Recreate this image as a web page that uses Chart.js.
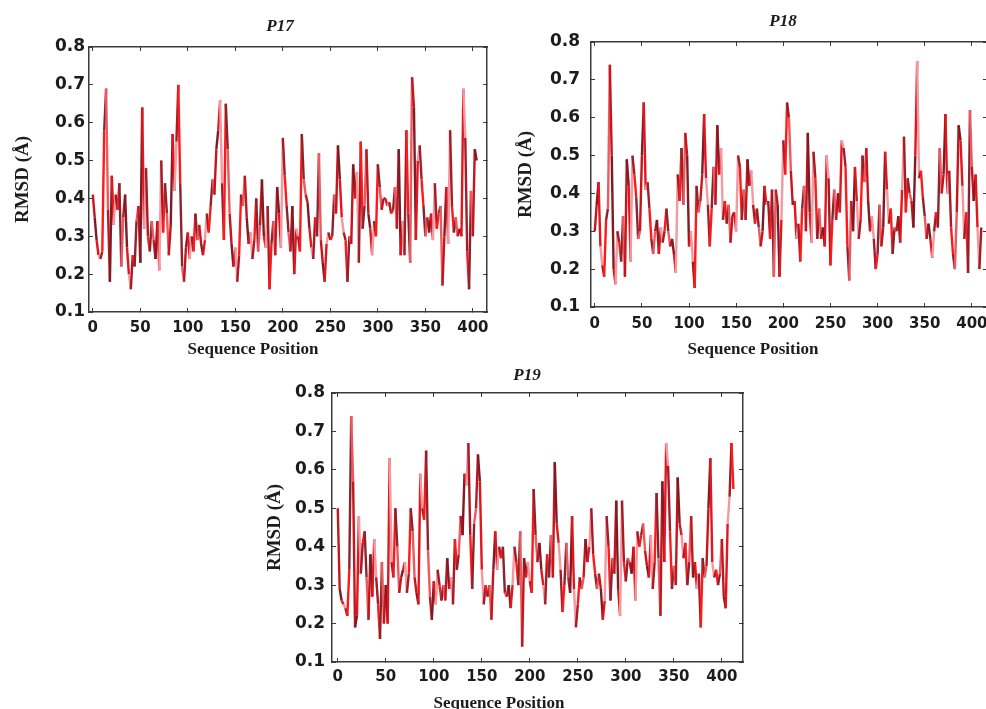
<!DOCTYPE html>
<html>
<head>
<meta charset="utf-8">
<script src="https://cdn.jsdelivr.net/npm/chart.js@4.4.1/dist/chart.umd.min.js"></script>
<style>
  html, body { margin: 0; padding: 0; background: #fff; overflow: hidden; width: 986px; height: 709px; }
  canvas { position: absolute; }
  #c17 { left: 0; top: 0; }
  #c18 { left: 500px; top: 0; }
  #c19 { left: 240px; top: 360px; }
</style>
</head>
<body>
<canvas id="c17" width="500" height="365"></canvas>
<canvas id="c18" width="500" height="360"></canvas>
<canvas id="c19" width="520" height="349"></canvas>
<script>
// ================= DATA =================
// RMSD per residue, every 2 sequence positions
const STEP = 2;

const p17Rmsd = [
  0.41, 0.35, 0.29, 0.25, 0.24, 0.26, 0.58, 0.69, 0.37, 0.18,
  0.46, 0.33, 0.41, 0.37, 0.44, 0.22, 0.35, 0.41, 0.27, 0.20,
  0.16, 0.25, 0.22, 0.34, 0.38, 0.23, 0.64, 0.32, 0.48, 0.30,
  0.26, 0.34, 0.29, 0.24, 0.34, 0.21, 0.50, 0.31, 0.44, 0.36,
  0.25, 0.33, 0.57, 0.42, 0.55, 0.70, 0.44, 0.22, 0.18, 0.27,
  0.31, 0.24, 0.30, 0.26, 0.36, 0.29, 0.33, 0.28, 0.25, 0.29,
  0.36, 0.31, 0.38, 0.45, 0.41, 0.53, 0.58, 0.66, 0.44, 0.29,
  0.65, 0.53, 0.36, 0.28, 0.22, 0.27, 0.18, 0.25, 0.41, 0.38,
  0.46, 0.35, 0.28, 0.31, 0.24, 0.29, 0.40, 0.26, 0.33, 0.45,
  0.30, 0.27, 0.38, 0.16, 0.28, 0.34, 0.25, 0.43, 0.36, 0.27,
  0.56, 0.46, 0.38, 0.31, 0.26, 0.38, 0.20, 0.32, 0.30, 0.26,
  0.57, 0.45, 0.41, 0.39, 0.32, 0.27, 0.24, 0.35, 0.30, 0.52,
  0.29, 0.23, 0.18, 0.28, 0.31, 0.29, 0.30, 0.41, 0.36, 0.54,
  0.45, 0.35, 0.31, 0.29, 0.18, 0.30, 0.28, 0.49, 0.40, 0.47,
  0.23, 0.55, 0.32, 0.38, 0.53, 0.36, 0.32, 0.25, 0.34, 0.30,
  0.49, 0.43, 0.37, 0.40, 0.40, 0.38, 0.39, 0.36, 0.37, 0.43,
  0.32, 0.53, 0.25, 0.34, 0.25, 0.58, 0.36, 0.23, 0.72, 0.64,
  0.29, 0.50, 0.54, 0.45, 0.38, 0.30, 0.35, 0.31, 0.36, 0.29,
  0.44, 0.32, 0.36, 0.38, 0.17, 0.30, 0.43, 0.28, 0.58, 0.38,
  0.31, 0.35, 0.30, 0.32, 0.30, 0.69, 0.56, 0.26, 0.16, 0.42,
  0.30, 0.53, 0.50
];

const p18Rmsd = [
  0.30, 0.37, 0.43, 0.26, 0.21, 0.18, 0.33, 0.36, 0.74, 0.50,
  0.20, 0.16, 0.30, 0.27, 0.22, 0.34, 0.18, 0.49, 0.42, 0.22,
  0.50, 0.45, 0.39, 0.28, 0.30, 0.50, 0.64, 0.41, 0.43, 0.36,
  0.28, 0.24, 0.30, 0.33, 0.24, 0.31, 0.27, 0.30, 0.36, 0.30,
  0.26, 0.28, 0.24, 0.19, 0.45, 0.38, 0.52, 0.37, 0.56, 0.50,
  0.26, 0.30, 0.22, 0.15, 0.42, 0.35, 0.38, 0.45, 0.61, 0.44,
  0.37, 0.26, 0.36, 0.47, 0.37, 0.58, 0.45, 0.52, 0.33, 0.38,
  0.32, 0.37, 0.27, 0.34, 0.35, 0.30, 0.50, 0.47, 0.33, 0.41,
  0.33, 0.49, 0.42, 0.46, 0.37, 0.32, 0.36, 0.31, 0.26, 0.30,
  0.42, 0.37, 0.38, 0.28, 0.41, 0.18, 0.41, 0.37, 0.18, 0.33,
  0.54, 0.45, 0.64, 0.60, 0.46, 0.37, 0.38, 0.28, 0.32, 0.22,
  0.36, 0.42, 0.30, 0.56, 0.35, 0.27, 0.51, 0.44, 0.28, 0.36,
  0.28, 0.31, 0.26, 0.50, 0.44, 0.21, 0.33, 0.41, 0.33, 0.40,
  0.35, 0.54, 0.52, 0.47, 0.26, 0.17, 0.38, 0.30, 0.47, 0.38,
  0.28, 0.33, 0.50, 0.43, 0.52, 0.38, 0.30, 0.34, 0.28, 0.20,
  0.24, 0.37, 0.26, 0.31, 0.51, 0.41, 0.32, 0.36, 0.24, 0.31,
  0.30, 0.34, 0.27, 0.41, 0.55, 0.35, 0.44, 0.40, 0.38, 0.31,
  0.50, 0.75, 0.44, 0.46, 0.39, 0.34, 0.28, 0.32, 0.28, 0.23,
  0.30, 0.35, 0.31, 0.52, 0.40, 0.45, 0.61, 0.40, 0.46, 0.31,
  0.24, 0.20, 0.35, 0.58, 0.54, 0.42, 0.28, 0.35, 0.19, 0.62,
  0.47, 0.38, 0.45, 0.31, 0.20, 0.31
];

const p19Rmsd = [
  0.50, 0.29, 0.26, 0.25, 0.24, 0.22, 0.34, 0.74, 0.57, 0.19,
  0.22, 0.48, 0.33, 0.41, 0.44, 0.32, 0.21, 0.38, 0.27, 0.42,
  0.32, 0.25, 0.16, 0.36, 0.20, 0.30, 0.20, 0.63, 0.36, 0.32,
  0.50, 0.40, 0.28, 0.32, 0.34, 0.36, 0.28, 0.33, 0.50, 0.44,
  0.32, 0.28, 0.25, 0.59, 0.50, 0.47, 0.65, 0.39, 0.27, 0.21,
  0.31, 0.25, 0.34, 0.30, 0.26, 0.30, 0.26, 0.37, 0.29, 0.32,
  0.25, 0.42, 0.34, 0.38, 0.48, 0.43, 0.59, 0.56, 0.67, 0.43,
  0.29, 0.46, 0.50, 0.64, 0.57, 0.34, 0.25, 0.30, 0.27, 0.30,
  0.21, 0.34, 0.44, 0.34, 0.40, 0.37, 0.40, 0.28, 0.27, 0.30,
  0.24, 0.30, 0.40, 0.36, 0.30, 0.44, 0.14, 0.37, 0.32, 0.36,
  0.31, 0.28, 0.55, 0.43, 0.36, 0.41, 0.34, 0.30, 0.25, 0.38,
  0.32, 0.43, 0.32, 0.62, 0.46, 0.41, 0.34, 0.23, 0.30, 0.41,
  0.32, 0.28, 0.48, 0.29, 0.19, 0.25, 0.32, 0.29, 0.32, 0.42,
  0.36, 0.40, 0.50, 0.38, 0.33, 0.29, 0.33, 0.29, 0.21, 0.26,
  0.48, 0.40, 0.26, 0.37, 0.33, 0.52, 0.29, 0.22, 0.52, 0.36,
  0.31, 0.37, 0.36, 0.33, 0.40, 0.26, 0.44, 0.40, 0.43, 0.46,
  0.39, 0.35, 0.32, 0.43, 0.29, 0.36, 0.54, 0.37, 0.22, 0.57,
  0.36, 0.67, 0.61, 0.44, 0.29, 0.35, 0.30, 0.58, 0.46, 0.43,
  0.37, 0.41, 0.30, 0.36, 0.48, 0.32, 0.36, 0.29, 0.33, 0.19,
  0.37, 0.32, 0.35, 0.50, 0.63, 0.36, 0.32, 0.34, 0.30, 0.33,
  0.42, 0.27, 0.24, 0.46, 0.53, 0.67, 0.55
];

const xTicks = [0, 50, 100, 150, 200, 250, 300, 350, 400];
const yTicks = [0.1, 0.2, 0.3, 0.4, 0.5, 0.6, 0.7, 0.8];

// ================= STYLE =================
const LINE_COLORS = ['#c4161f', '#7d1c26', '#e3151d', '#f29aa0', '#a51b26', '#ff1a1a', '#8a2530', '#ec5a60'];
const INK = '#1c1c1c';
const FRAME = '#3a3a3a';

// panel title + x axis title, drawn where the figure has them
const panelText = {
  id: 'panelText',
  afterDraw(chart, args, o) {
    const ctx = chart.ctx;
    ctx.save();
    ctx.fillStyle = INK;
    ctx.textAlign = 'center';
    ctx.textBaseline = 'middle';
    ctx.font = 'italic bold 17px "Liberation Serif"';
    ctx.fillText(o.title, o.titleX, o.titleY);
    ctx.font = 'bold 17px "Liberation Serif"';
    ctx.fillText(o.xTitle, o.xTitleX, o.xTitleY);
    ctx.restore();
  }
};

function frameAxis(axis, position, min, max, size) {
  return {
    type: 'linear', axis, position, min, max,
    afterBuildTicks: s => { s.ticks = (axis === 'x' ? xTicks : yTicks).map(v => ({ value: v })); },
    afterFit: s => { if (axis === 'x') s.height = size; else s.width = size; },
    ticks: { display: false },
    grid: { display: true, drawOnChartArea: false, drawTicks: true, tickLength: -4, color: FRAME },
    border: { display: true, color: FRAME, width: 1.5 }
  };
}

function panel(id, values, L) {
  const pts = values.map((v, i) => ({ x: i * STEP, y: v }));
  return new Chart(document.getElementById(id), {
    type: 'line',
    data: {
      datasets: [{
        data: pts,
        borderColor: LINE_COLORS[0],
        borderWidth: 2.4,
        pointRadius: 0,
        tension: 0,
        segment: { borderColor: c => LINE_COLORS[c.p0DataIndex % LINE_COLORS.length] }
      }]
    },
    options: {
      responsive: false,
      animation: false,
      events: [],
      layout: { padding: 0 },
      plugins: {
        legend: { display: false },
        tooltip: { enabled: false },
        panelText: L.text
      },
      scales: {
        x: {
          type: 'linear', position: 'bottom', min: L.xMin, max: L.xMax,
          afterBuildTicks: s => { s.ticks = xTicks.map(v => ({ value: v })); },
          afterFit: s => { s.height = L.bottomH; },
          ticks: { autoSkip: false, maxRotation: 0, padding: L.xPad, color: INK,
                   font: { family: 'DejaVu Sans', weight: 'bold', size: 15 } },
          grid: { display: true, drawOnChartArea: false, drawTicks: true, tickLength: -4, color: FRAME },
          border: { display: true, color: FRAME, width: 1.5 }
        },
        x2: frameAxis('x', 'top', L.xMin, L.xMax, L.topH),
        y: {
          type: 'linear', position: 'left', min: 0.1, max: 0.8,
          afterBuildTicks: s => { s.ticks = yTicks.map(v => ({ value: v })); },
          afterFit: s => { s.width = L.leftW; },
          ticks: { padding: L.yPad, color: INK, callback: v => v.toFixed(1),
                   font: { family: 'DejaVu Sans', weight: 'bold', size: 17 } },
          grid: { display: true, drawOnChartArea: false, drawTicks: true, tickLength: -4, color: FRAME },
          border: { display: true, color: FRAME, width: 1.5 },
          title: { display: true, text: 'RMSD (Å)', color: INK, padding: { top: L.yTitlePad, bottom: 0 },
                   font: { family: 'Liberation Serif', weight: 'bold', size: 19 } }
        },
        y2: frameAxis('y', 'right', 0.1, 0.8, L.rightW)
      }
    },
    plugins: [panelText]
  });
}

// ================= PANELS =================
panel('c17', p17Rmsd, {
  xMin: -4, xMax: 415, leftW: 89, rightW: 11, topH: 47, bottomH: 53,
  xPad: 11, yPad: 8, yTitlePad: 12,
  text: { title: 'P17', titleX: 280, titleY: 27, xTitle: 'Sequence Position', xTitleX: 253, xTitleY: 350 }
});

panel('c18', p18Rmsd, {
  xMin: -4, xMax: 416, leftW: 91, rightW: 12, topH: 42, bottomH: 53,
  xPad: 12, yPad: 15, yTitlePad: 15,
  text: { title: 'P18', titleX: 283, titleY: 22, xTitle: 'Sequence Position', xTitleX: 253, xTitleY: 350 }
});

panel('c19', p19Rmsd, {
  xMin: -6, xMax: 422, leftW: 92, rightW: 17, topH: 33, bottomH: 47,
  xPad: 10, yPad: 11, yTitlePad: 24,
  text: { title: 'P19', titleX: 287, titleY: 16, xTitle: 'Sequence Position', xTitleX: 259, xTitleY: 344 }
});
</script>
</body>
</html>
